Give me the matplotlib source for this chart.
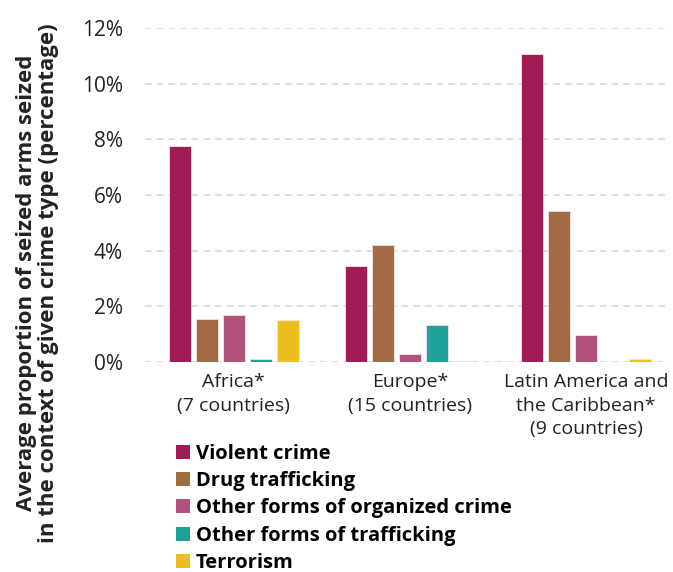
"Average proportion of seized arms by crime type, grouped bar chart"

import matplotlib.pyplot as plt
import numpy as np
from matplotlib.patches import Patch
from matplotlib.ticker import FuncFormatter

plt.rcParams["font.family"] = ["Open Sans", "DejaVu Sans"]

regions = ["Africa*\n(7 countries)", "Europe*\n(15 countries)",
           "Latin America and\nthe Caribbean*\n(9 countries)"]
crime_types = ["Violent crime", "Drug trafficking", "Other forms of organized crime",
               "Other forms of trafficking", "Terrorism"]
colors = ["#A01C57", "#A06D42", "#B0527A", "#1FA199", "#ECBF1F"]

# percentages per crime type, one value per region
violent = [7.77, 3.44, 11.08]
drug = [1.53, 4.19, 5.41]
organized = [1.68, 0.29, 0.98]
trafficking = [0.10, 1.33, 0.0]
terrorism = [1.52, 0.04, 0.10]
series = [violent, drug, organized, trafficking, terrorism]

fig = plt.figure(figsize=(6.73, 5.72), dpi=100)
ax = fig.add_axes([0.2155, 0.367, 0.78, 0.584])

x = np.arange(len(regions))
step = 0.1535
width = 0.125
for i, (vals, color) in enumerate(zip(series, colors)):
    ax.bar(x + (i - 2) * step, vals, width=width, color=color,
           edgecolor="#F2E4EA", linewidth=0.6, zorder=3)

ax.set_ylim(0, 12)
ax.set_xlim(-0.503, 2.477)
ax.set_yticks(np.arange(0, 13, 2))
ax.yaxis.set_major_formatter(FuncFormatter(lambda v, _: f"{v:.0f}%"))
ax.set_xticks(x)
ax.set_xticklabels(regions, fontsize=14, color="#222222", linespacing=1.38)
ax.tick_params(axis="y", labelsize=15, colors="#222222", length=0, pad=16)
ax.tick_params(axis="x", length=0, pad=8)
ax.grid(axis="y", color="#D9D9D9", linestyle=(0, (4, 3)), linewidth=1.2, zorder=0)
for side in ["top", "right", "left", "bottom"]:
    ax.spines[side].set_visible(False)

fig.text(0.056, 0.505, "Average proportion of seized arms seized\n"
         "in the context of given crime type (percentage)",
         rotation=90, ha="center", va="center", fontsize=16, fontweight="bold",
         color="#222222", linespacing=1.1)

handles = [Patch(facecolor=c, edgecolor="none") for c in colors]
fig.legend(handles, crime_types, loc="upper left", bbox_to_anchor=(0.261, 0.224),
           frameon=False, prop={"size": 14.5, "weight": "bold"},
           handlelength=0.7, handleheight=0.7, handletextpad=0.3,
           labelspacing=0.36, borderaxespad=0, borderpad=0)

fig.savefig("out.png", dpi=100)
